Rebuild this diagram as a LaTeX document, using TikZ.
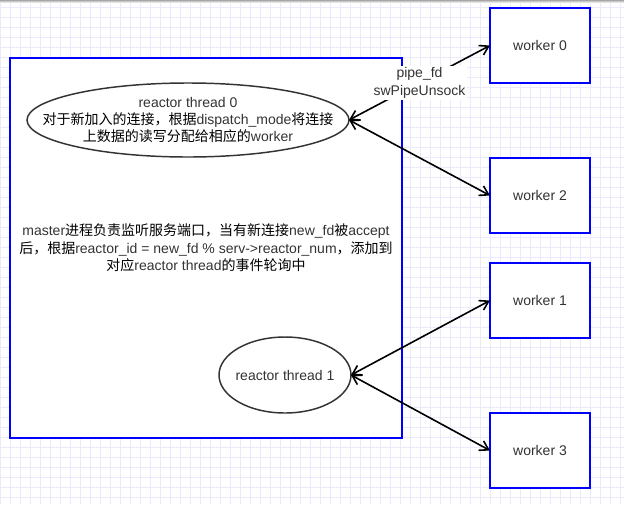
\documentclass[tikz,border=0pt]{standalone}
\usepackage{fontspec}
\setmainfont{Liberation Sans}
\newfontfamily\cjk{Noto Sans CJK SC}
\usetikzlibrary{shapes.geometric,arrows.meta}
\definecolor{gridc}{RGB}{234,234,252}
\definecolor{boxblue}{RGB}{0,0,255}
\definecolor{txt}{RGB}{51,51,51}
\newcommand{\zh}[1]{{\cjk\color{black}#1}}
\tikzset{
  lbl/.style={font=\fontsize{10.5pt}{13pt}\selectfont, text=txt, align=center},
  bluebox/.style={lbl, draw=boxblue, line width=1.9pt, fill=white, rectangle, inner sep=0pt, outer sep=0pt},
  workerbox/.style={bluebox, minimum width=75pt, minimum height=56.25pt},
  ell/.style={ellipse, draw=txt, line width=1.1pt, fill=white, inner sep=0pt, outer sep=0pt},
  conn/.style={line width=1.2pt, black, {Straight Barb[length=6.5pt,width=8pt]}-{Straight Barb[length=6.5pt,width=8pt]}}
}
\begin{document}
\begin{tikzpicture}[x=0.75pt,y=-0.75pt]
\useasboundingbox (0,0) rectangle (624,504);
\fill[white] (0,0) rectangle (624,504);
% grid
\foreach \gx in {0,10,...,620} \draw[gridc, line width=0.75pt] (\gx,0) -- (\gx,504);
\foreach \gy in {7,17,...,497} \draw[gridc, line width=0.75pt] (0,\gy) -- (624,\gy);
% top shadow
\draw[black!35, line width=0.75pt] (0,0.5) -- (624,0.5);
\draw[black!22, line width=0.75pt] (0,1.5) -- (624,1.5);
\draw[black!10, line width=0.75pt] (0,2.5) -- (624,2.5);
% master
\node[bluebox, minimum width=294pt, minimum height=285pt] (master) at (206,248)
  {master\zh{进程负责监听服务端口，当有新连接}new\_fd\zh{被}accept\\
   \zh{后，根据}reactor\_id = new\_fd \% serv->reactor\_num\zh{，添加到}\\
   \zh{对应}reactor thread\zh{的事件轮询中}};
% ellipses
\node[ell, minimum width=241.5pt, minimum height=55.5pt] (r0) at (188,120) {};
\node[lbl] (r0text) at (r0.center)
  {reactor thread 0\\
   \zh{对于新加入的连接，根据}dispatch\_mode\zh{将连接}\\
   \zh{上数据的读写分配给相应的}worker};
\node[ell, minimum width=99pt, minimum height=57pt] (r1) at (285,375) {};
\node[lbl] (r1text) at (r1.center) {reactor thread 1};
% workers
\node[workerbox] (w0) at (540,45.5) {worker 0};
\node[workerbox] (w2) at (540,195.5) {worker 2};
\node[workerbox] (w1) at (540,300.5) {worker 1};
\node[workerbox] (w3) at (540,450.5) {worker 3};
% connectors
\draw[conn] (r0.east) -- node[lbl, fill=white, inner sep=1.5pt, text=txt] (pl) {pipe\_fd\\swPipeUnsock} (w0.west);
\draw[conn] (r0.east) -- (w2.west);
\draw[conn] (r1.east) -- (w1.west);
\draw[conn] (r1.east) -- (w3.west);
\end{tikzpicture}
\end{document}
